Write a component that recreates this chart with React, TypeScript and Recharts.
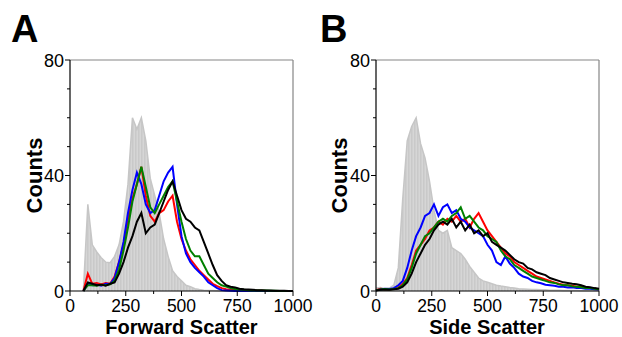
import React from "react";
import {
  ComposedChart, Area, Line, XAxis, YAxis, ReferenceLine,
} from "recharts";

// channel value (bin start), shared by both panels
const XS = [
  0, 20, 40, 60, 80, 100, 120, 140, 160, 180,
  200, 220, 240, 260, 280, 300, 320, 340, 360, 380,
  400, 420, 440, 460, 480, 500, 520, 540, 560, 580,
  600, 620, 640, 660, 680, 700, 720, 740, 760, 780,
  800, 820, 840, 860, 880, 900, 920, 940, 960, 980,
  1000,
];

// A - forward scatter
const GRAY_A = [
  null, null, null, 0, 30, 16, 13.5, 11.5, 10, 9.8,
  12, 16, 24, 37, 60, 56, 60, 52, 39, 33,
  27, 18, 12, 7, 5, 3.5, 2, 1.5, 0.8, 0.5,
  0.3, 0.2, 0.2, 0.1, 0, 0, 0, 0, 0, 0,
  0, 0, 0, 0, 0, 0, 0, 0, 0, 0,
  0,
];
const RED_A = [
  null, null, null, 0, 6, 2.5, 2.8, 2.3, 2.8, 2.5,
  5, 10, 16, 25, 32, 37, 43, 33, 26, 24,
  27, 28, 31, 33, 24, 18, 14, 11, 9, 7,
  5.5, 4, 2.5, 1.7, 1, 0.6, 0.4, 0.3, 0.3, 0.2,
  0.2, 0.1, 0.1, 0.1, 0, 0, 0, 0, 0, 0,
  0,
];
const BLUE_A = [
  null, null, null, 0, 2.5, 2, 2.2, 1.8, 2.5, 2.4,
  4.5, 10, 17, 27, 35, 41, 37, 30, 27, 28,
  33, 38, 41, 43, 30, 19, 13, 10, 8, 6.5,
  5, 3, 2, 1, 0.3, 0.2, 0.1, 0, 0, 0,
  0, 0, 0, 0, 0, 0, 0, 0, 0, 0,
  0,
];
const GREEN_A = [
  null, null, null, 0, 2, 2, 1.8, 2.2, 2, 2.3,
  3.5, 7.5, 14, 22, 31, 37, 43, 36, 29, 27,
  30, 33, 36, 38, 31, 24, 18, 14, 12, 12,
  9, 6, 4.5, 3, 2, 1.5, 1, 0.7, 0.5, 0.4,
  0.3, 0.2, 0.2, 0.2, 0.2, 0.1, 0.1, 0, 0, 0,
  0,
];
const BLACK_A = [
  null, null, null, 0, 3, 2.5, 2, 2.2, 1.8, 2.5,
  3, 6, 10, 15, 19, 24, 27, 20, 22, 23,
  27, 31, 35, 38, 33, 28, 25, 24, 22, 21,
  17, 13, 9, 5.5, 3.5, 2, 1.5, 1.2, 0.8, 0.6,
  0.5, 0.4, 0.3, 0.3, 0.2, 0.2, 0.1, 0.1, 0.1, 0,
  0,
];

// B - side scatter
const GRAY_B = [
  1, 1.2, 0.8, 1, 2, 8, 32, 52, 57, 60,
  51, 46, 38, 28, 21, 20, 21, 15, 14, 13,
  11, 8.5, 6.5, 4.5, 3.5, 3, 2.5, 2, 1.7, 1.5,
  1.2, 1, 0.8, 0.7, 0.6, 0.5, 0.5, 0.4, 0.4, 0.3,
  0.3, 0.3, 0.2, 0.2, 0.2, 0.2, 0.1, 0.1, 0.1, 0.1,
  0.1,
];
const RED_B = [
  0.3, 0.8, 0.6, 0.5, 0.8, 1.2, 2.5, 4.5, 9, 14,
  16, 18, 21, 22, 24, 23, 25, 24, 26, 24,
  25, 22, 25, 27, 24, 21, 19, 17, 15, 13,
  12, 10, 9, 8, 7, 6, 5, 4.5, 4, 3.5,
  3, 2.5, 2.2, 2, 1.8, 1.5, 1.6, 1.2, 1, 0.8,
  0.6,
];
const BLUE_B = [
  0.3, 0.5, 0.8, 0.7, 1, 2, 3.5, 8, 14, 19,
  22, 26, 27, 30, 26, 29, 30, 27, 28, 25,
  24, 22, 21, 20, 19, 16, 14, 10, 9, 12,
  9.5, 8, 6, 5, 4.5, 3.5, 3, 2.7, 2.2, 2,
  1.8, 1.5, 1.5, 1.2, 1.3, 1, 1, 0.8, 0.8, 0.6,
  0.5,
];
const GREEN_B = [
  0.3, 0.5, 0.7, 0.5, 0.7, 1, 2, 4, 8, 13,
  16, 19, 20, 22, 24, 25, 24, 26, 27, 29,
  25, 26, 24, 22, 21, 19, 18, 17, 14, 12,
  11, 9, 8, 7, 6, 5, 4.5, 4, 3.5, 3,
  2.8, 2.3, 2, 2, 1.6, 1.5, 1.3, 1, 1, 0.8,
  0.6,
];
const BLACK_B = [
  0.2, 0.4, 0.5, 0.4, 0.6, 0.8, 1.5, 3, 6, 10,
  13, 16, 18, 21, 23, 24, 23, 25, 22, 24,
  21, 23, 20, 21, 19, 20, 17, 16, 15, 14,
  12.5, 11, 10, 9.5, 8, 7.5, 6.5, 6, 5.5, 4.5,
  4, 3.5, 3, 2.8, 2.5, 2.3, 2, 1.5, 1.3, 1,
  0.8,
];

const X_TICKS = [0, 125, 250, 375, 500, 625, 750, 875, 1000];
const Y_TICKS = [0, 10, 20, 30, 40, 50, 60, 70, 80];

const FONT = "Arial, 'Liberation Sans', sans-serif";

const buildRows = (g: any[], r: any[], b: any[], gr: any[], k: any[]) =>
  XS.map((x, i) => ({ x, gray: g[i], red: r[i], blue: b[i], green: gr[i], black: k[i] }));

const rowsA = buildRows(GRAY_A, RED_A, BLUE_A, GREEN_A, BLACK_A);
const rowsB = buildRows(GRAY_B, RED_B, BLUE_B, GREEN_B, BLACK_B);

function XTick({ x, y, payload }: any) {
  const major = payload.value % 250 === 0;
  return (
    <g>
      <line x1={x} y1={y} x2={x} y2={y + (major ? 5 : 3)} stroke="#000" />
      {major && (
        <text x={x} y={y + 20.5} textAnchor="middle" fontSize={17.5} fontFamily={FONT} fill="#000">
          {payload.value}
        </text>
      )}
    </g>
  );
}

function YTick({ x, y, payload }: any) {
  const major = payload.value % 40 === 0;
  return (
    <g>
      <line x1={x - (major ? 5 : 3)} y1={y} x2={x} y2={y} stroke="#000" />
      {major && (
        <text x={x - 6} y={y + 6.5} textAnchor="end" fontSize={18} fontFamily={FONT} fill="#000">
          {payload.value}
        </text>
      )}
    </g>
  );
}

function Panel({ rows, pid, width, right }: any) {
  return (
    <ComposedChart
      width={width}
      height={337}
      data={rows}
      margin={{ top: 60, right, bottom: 16, left: 20 }}
    >
      <defs>
        <pattern id={pid} width={3} height={10} patternUnits="userSpaceOnUse">
          <rect width={3} height={10} fill="#d6d6d6" />
          <rect width={1.5} height={10} fill="#c9c9c9" />
        </pattern>
      </defs>
      <XAxis
        dataKey="x"
        type="number"
        domain={[0, 1000]}
        ticks={X_TICKS}
        interval={0}
        tickSize={0}
        tickMargin={0}
        tickLine={false}
        tick={<XTick />}
        height={30}
        axisLine={{ stroke: "#000", strokeWidth: 1.2 }}
      />
      <YAxis
        type="number"
        domain={[0, 80]}
        ticks={Y_TICKS}
        interval={0}
        tickSize={0}
        tickMargin={0}
        tickLine={false}
        tick={<YTick />}
        width={50}
        axisLine={{ stroke: "#000", strokeWidth: 1.2 }}
      />
      <ReferenceLine y={80} stroke="#858585" strokeWidth={1.2} />
      <ReferenceLine x={1000} stroke="#858585" strokeWidth={1.2} />
      <Area
        dataKey="gray"
        type="linear"
        stroke="#c6c6c6"
        strokeWidth={1.5}
        fill={`url(#${pid})`}
        fillOpacity={1}
        isAnimationActive={false}
      />
      <Line dataKey="red" type="linear" stroke="#ff0000" strokeWidth={2} dot={false} isAnimationActive={false} />
      <Line dataKey="blue" type="linear" stroke="#0000ff" strokeWidth={2} dot={false} isAnimationActive={false} />
      <Line dataKey="green" type="linear" stroke="#008000" strokeWidth={2} dot={false} isAnimationActive={false} />
      <Line dataKey="black" type="linear" stroke="#000000" strokeWidth={2} dot={false} isAnimationActive={false} />
    </ComposedChart>
  );
}

export default function App() {
  return (
    <div style={{ position: "absolute", left: 0, top: 0, width: 622, height: 337, background: "#fff", overflow: "hidden", fontFamily: FONT }}>
      <div style={{ position: "absolute", left: 0, top: 0 }}>
        <Panel rows={rowsA} pid="stripeA" width={330} right={37} />
      </div>
      <div style={{ position: "absolute", left: 306, top: 0 }}>
        <Panel rows={rowsB} pid="stripeB" width={316} right={23} />
      </div>
      <svg width={622} height={337} style={{ position: "absolute", left: 0, top: 0, pointerEvents: "none" }}>
        <text x={11} y={42} fontSize={38} fontWeight="bold" fontFamily={FONT}>A</text>
        <text x={320} y={42} fontSize={38} fontWeight="bold" fontFamily={FONT}>B</text>
        <text transform="translate(41.5,175.5) rotate(-90)" textAnchor="middle" fontSize={22} fontWeight="bold" fontFamily={FONT}>Counts</text>
        <text transform="translate(346.5,175.5) rotate(-90)" textAnchor="middle" fontSize={22} fontWeight="bold" fontFamily={FONT}>Counts</text>
        <text x={181.5} y={334} textAnchor="middle" fontSize={20} fontWeight="bold" fontFamily={FONT}>Forward Scatter</text>
        <text x={487} y={334} textAnchor="middle" fontSize={20} fontWeight="bold" fontFamily={FONT}>Side Scatter</text>
      </svg>
    </div>
  );
}
